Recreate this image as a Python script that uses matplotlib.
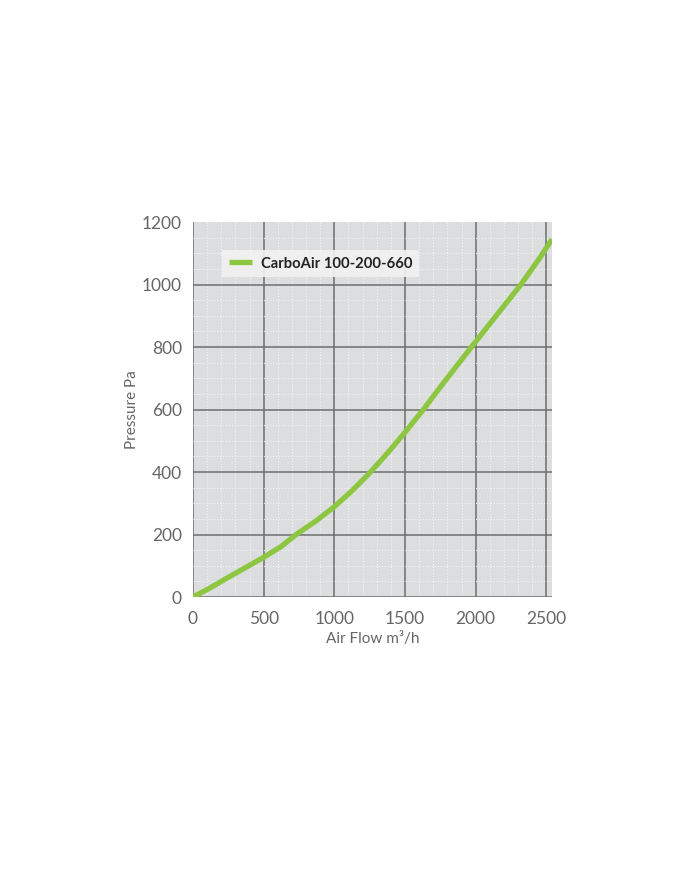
import matplotlib
matplotlib.use("Agg")
import matplotlib.pyplot as plt
from matplotlib.ticker import MultipleLocator

# Lecture approximative de la courbe (débit m3/h -> pression Pa)
air_flow = [0, 125, 250, 375, 500, 625, 730, 875, 1000, 1125, 1250, 1375,
            1500, 1630, 1750, 1875, 1970, 2150, 2320, 2450, 2540]
pressure = [0, 30, 63, 95, 127, 162, 200, 245, 289, 340, 397, 460,
            527, 600, 672, 745, 800, 903, 1000, 1083, 1145]
serie_label = "CarboAir 100-200-660"

x_ticks = [0, 500, 1000, 1500, 2000, 2500]
y_ticks = [0, 200, 400, 600, 800, 1000, 1200]

plt.rcParams['font.family'] = ['Lato', 'DejaVu Sans']

fig = plt.figure(figsize=(7, 8.69), dpi=100)
ax = fig.add_axes([0.2757, 0.313, 0.5129, 0.4315])
ax.set_facecolor('#dcdddf')

ax.plot(air_flow, pressure, color='#8dc641', linewidth=3.8,
        solid_capstyle='butt', solid_joinstyle='round',
        label=serie_label, zorder=5)

ax.set_xlim(0, 2540)
ax.set_ylim(0, 1200)
ax.set_xticks(x_ticks)
ax.set_yticks(y_ticks)
ax.xaxis.set_minor_locator(MultipleLocator(100))
ax.yaxis.set_minor_locator(MultipleLocator(50))

ax.grid(True, which='minor', color='#f4f4f4', linestyle=':', linewidth=0.8)
ax.grid(True, which='major', color='#6d6d6d', linestyle='-', linewidth=1.1)
ax.yaxis.get_gridlines()[-1].set_visible(False)
ax.set_axisbelow(True)

for s in ax.spines.values():
    s.set_visible(False)

ax.tick_params(which='both', length=0, labelsize=12.5, labelcolor='#666666', pad=8)
ax.tick_params(axis='x', pad=10)

ax.set_xlabel('Air Flow m³/h', fontsize=11, color='#666666', labelpad=4)
ax.set_ylabel('Pressure Pa', fontsize=11, color='#666666', labelpad=2)

leg = ax.legend(loc='upper left', bbox_to_anchor=(0.06, 0.945), frameon=True,
                fontsize=10.6, handlelength=1.6, borderpad=0.45,
                handletextpad=0.6)
leg.get_frame().set_facecolor('#f2f2f2')
leg.get_frame().set_edgecolor('none')
leg.get_frame().set_alpha(0.9)
leg.get_frame().set_boxstyle('square', pad=0.0)
for t in leg.get_texts():
    t.set_color('#222222')
    t.set_fontweight('bold')

fig.savefig('out.png', dpi=100, facecolor='white')
